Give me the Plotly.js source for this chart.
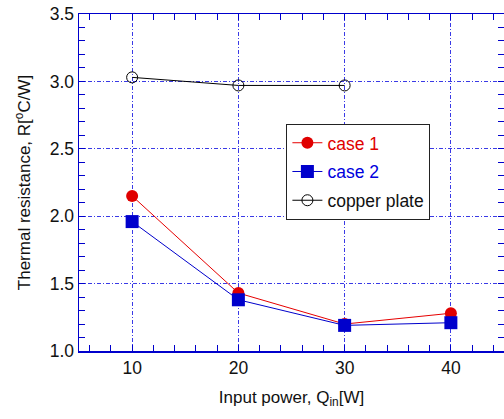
<!DOCTYPE html>
<html><head><meta charset="utf-8">
<script src="https://cdn.plot.ly/plotly-3.0.1.min.js"></script>
<style>html,body{margin:0;padding:0;background:#fff}#c{width:504px;height:419px}</style>
</head><body><div id="c"></div>
<script>
const power = [10, 20, 30, 40];
const case1 = [2.15, 1.43, 1.20, 1.28];
const case2 = [1.96, 1.38, 1.19, 1.21];
const copperPower = [10, 20, 30];
const copper = [3.03, 2.97, 2.97];
const xTicks = [10, 20, 30, 40];
const yTicks = [1.0, 1.5, 2.0, 2.5, 3.0, 3.5];
const yTickText = ['1.0', '1.5', '2.0', '2.5', '3.0', '3.5'];

const blue = '#0000cc';
const gridBlue = '#3a3ae6';
const FONT = 'Liberation Sans, Arial, sans-serif';
const traces = [
  {x: power, y: case1, mode: 'lines+markers', name: '<span style="color:#e00000">case 1</span>', legendgroup: 'a',
   line: {color: '#e60000', width: 1}, marker: {symbol: 'circle', size: 12, color: '#e00000'}},
  {x: power, y: case2, mode: 'lines+markers', name: '<span style="color:#0000dd">case 2</span>', legendgroup: 'b',
   line: {color: '#0000cc', width: 1}, marker: {symbol: 'square', size: 13, color: '#0000cc'}},
  {x: copperPower, y: copper, mode: 'lines+markers', name: 'copper plate', legendgroup: 'c',
   line: {color: '#000', width: 1}, marker: {symbol: 'circle-open', size: 11, color: '#000', line: {width: 1}}},
  {x: [null], y: [null], xaxis: 'x2', yaxis: 'y2', mode: 'markers', showlegend: false, hoverinfo: 'skip'}
];
const axisCommon = {
  showline: true, linecolor: blue, linewidth: 1.5, mirror: true,
  ticks: 'inside', ticklen: 6, tickcolor: blue,
  showgrid: true, gridcolor: gridBlue, griddash: '4px,2px,1px,2px', gridwidth: 1,
  zeroline: false, tickfont: {family: FONT, size: 17.5, color: '#111'}
};
const mirrorCommon = {
  showline: false, ticks: 'inside', ticklen: 6, tickcolor: blue, showgrid: false,
  zeroline: false, showticklabels: false
};
const layout = {
  width: 504, height: 419,
  margin: {l: 79, r: 0, t: 14, b: 68},
  paper_bgcolor: '#fff', plot_bgcolor: '#fff',
  font: {family: FONT, color: '#111'},
  showlegend: true,
  legend: {x: 0.488, y: 0.674, xanchor: 'left', yanchor: 'top',
    bgcolor: '#fff', bordercolor: '#222', borderwidth: 1, itemwidth: 30,
    font: {size: 17.5, family: FONT}, tracegroupgap: 3},
  xaxis: Object.assign({}, axisCommon, {
    range: [5, 45], tickvals: xTicks, ticktext: xTicks.map(String),
    minor: {dtick: 2, tick0: 0, ticks: 'inside', ticklen: 6, tickcolor: blue, showgrid: false},
    title: {text: 'Input power, Q<sub>in</sub>[W]', font: {size: 17, family: FONT}, standoff: 14}
  }),
  yaxis: Object.assign({}, axisCommon, {
    range: [1.0, 3.5], tickvals: yTicks, ticktext: yTickText,
    minor: {dtick: 0.1, tick0: 0, ticks: 'inside', ticklen: 6, tickcolor: blue, showgrid: false},
    title: {text: 'Thermal resistance, R[<sup>o</sup>C/W]', font: {size: 17, family: FONT}, standoff: 14}
  }),
  xaxis2: Object.assign({}, mirrorCommon, {
    overlaying: 'x', side: 'top', range: [5, 45], tickvals: xTicks,
    minor: {dtick: 2, tick0: 0, ticks: 'inside', ticklen: 6, tickcolor: blue, showgrid: false}
  }),
  yaxis2: Object.assign({}, mirrorCommon, {
    overlaying: 'y', side: 'right', range: [1.0, 3.5], tickvals: yTicks,
    minor: {dtick: 0.1, tick0: 0, ticks: 'inside', ticklen: 6, tickcolor: blue, showgrid: false}
  })
};
Plotly.newPlot('c', traces, layout, {displayModeBar: false, staticPlot: true});
</script></body></html>
